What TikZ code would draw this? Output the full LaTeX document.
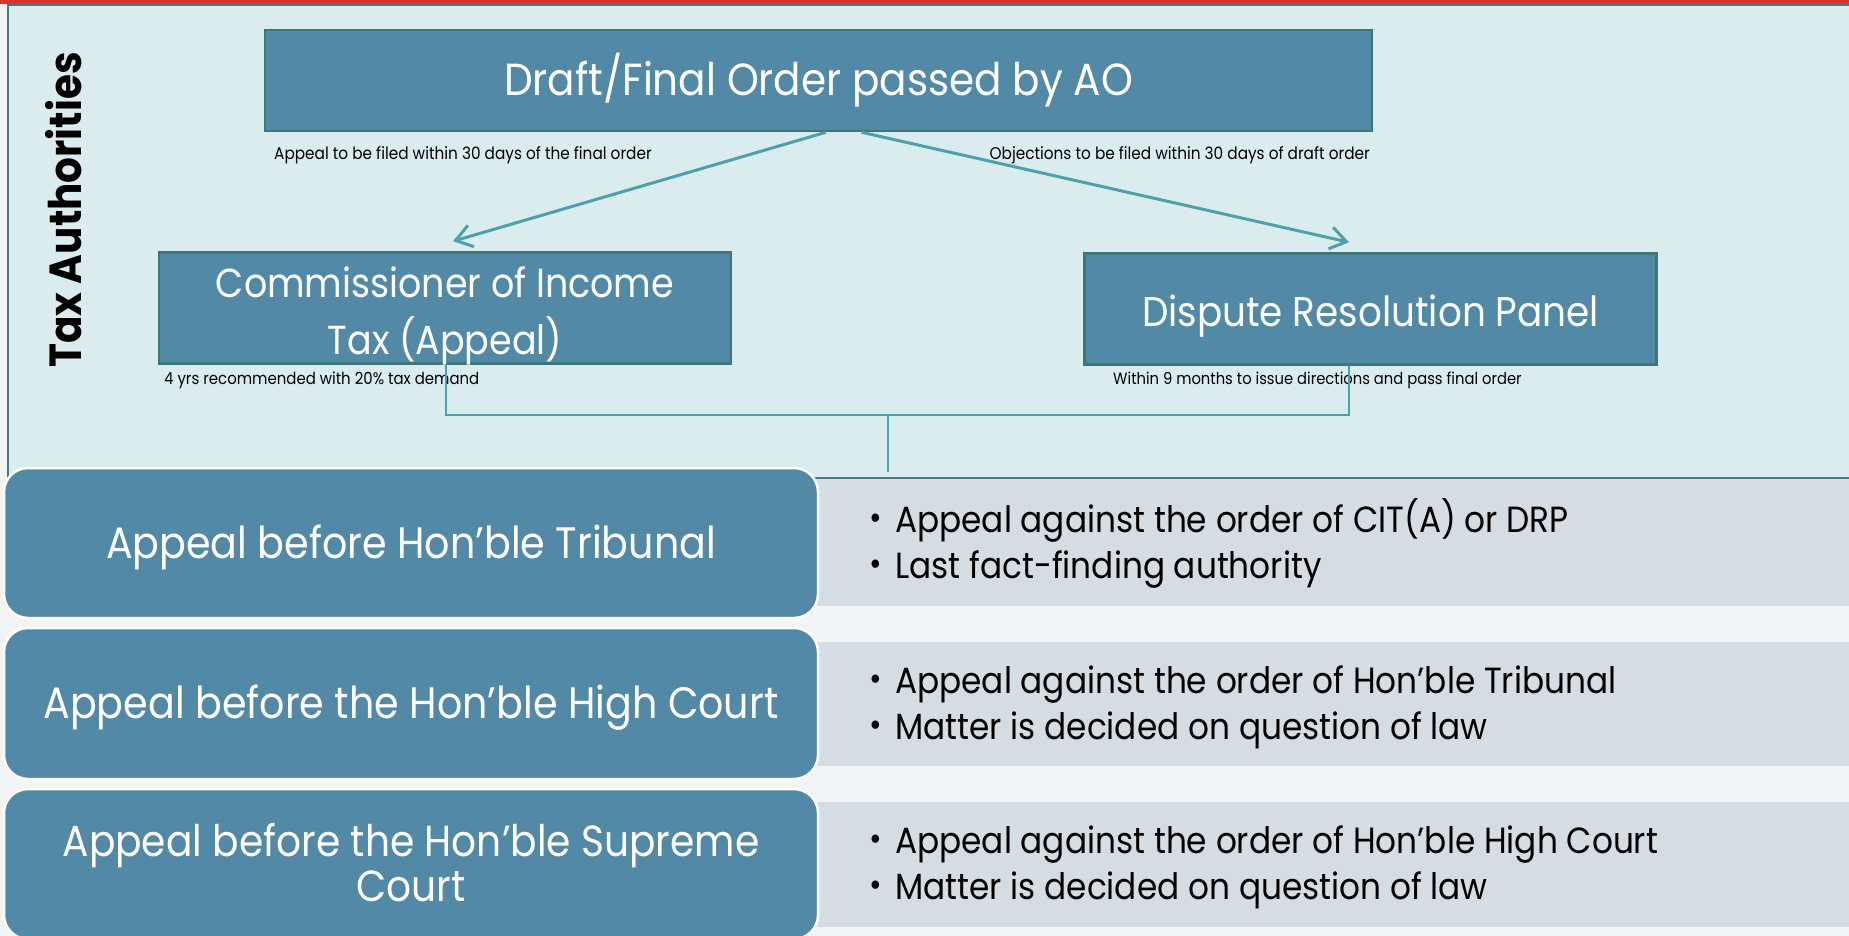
\documentclass[tikz,border=0pt]{standalone}
\usepackage{fontspec}
\setmainfont[FakeStretch=0.9]{Poppins}
\usetikzlibrary{arrows.meta,calc}
\definecolor{bgc}{HTML}{F3F4F5}
\definecolor{panelc}{HTML}{DBECEF}
\definecolor{panelb}{HTML}{3E7F82}
\definecolor{boxc}{HTML}{5289A6}
\definecolor{boxb}{HTML}{3D7778}
\definecolor{arrc}{HTML}{4CA2AA}
\definecolor{grayc}{HTML}{D5DCE2}
\definecolor{redc}{HTML}{E0302B}
\newcommand{\mybul}{\makebox[26pt][l]{\raisebox{3pt}{\fontsize{34}{34}\selectfont\textbullet}}}
\begin{document}
\begin{tikzpicture}[x=1pt,y=-1pt,
  topbox/.style={fill=boxc, draw=boxb, line width=2.5pt, inner sep=0pt, text=white},
  rowbox/.style={fill=boxc, draw=white, line width=2.5pt, rounded corners=24pt, inner sep=0pt,
    text=white, align=center, font=\fontsize{44}{53}\selectfont},
  grayrect/.style={fill=grayc, inner sep=0pt, anchor=north west},
  smalllbl/.style={font=\fontsize{17}{20}\selectfont, text=black, inner sep=0pt},
  bultext/.style={font=\fontsize{36.4}{46}\selectfont, text=black, align=left, inner sep=0pt, anchor=west},
  arr/.style={draw=arrc, line width=3pt, -{Straight Barb[length=16pt,width=22pt]}},
  bracket/.style={draw=arrc, line width=1.5pt}]
\useasboundingbox (0,0) rectangle (1849,936);
\fill[bgc] (0,0) rectangle (1849,936);
\fill[redc] (0,0) rectangle (1849,4);
\draw[fill=panelc, draw=panelb, line width=2pt] (8,5) rectangle (1860,478);

\node[topbox, minimum width=1107pt, minimum height=101pt, font=\fontsize{45}{57}\selectfont] (ao) at (818.5,80.5) {Draft/Final Order passed by AO};
\node[topbox, minimum width=572pt, minimum height=111pt] (cit) at (445,308) {};
\node[text=white, align=center, inner sep=0pt, font=\fontsize{40.5}{57}\selectfont] (citt) at (445,316) {Commissioner of Income\\Tax (Appeal)};
\node[topbox, minimum width=572pt, minimum height=111pt] (drp) at (1370.5,309) {};
\node[text=white, inner sep=0pt, font=\fontsize{41.5}{50}\selectfont] (drpt) at (1370.5,316) {Dispute Resolution Panel};

\node[rotate=90, font=\bfseries\fontsize{45}{45}\selectfont, inner sep=0pt] (ta) at (64,210) {Tax Authorities};

\node[smalllbl, anchor=west] (l1) at (274,155) {Appeal to be filed within 30 days of the final order};
\node[smalllbl, anchor=east] (l2) at (1370,155) {Objections to be filed within 30 days of draft order};
\node[smalllbl, anchor=west, font=\fontsize{16.6}{20}\selectfont] (l3) at (164,380) {4 yrs recommended with 20\% tax demand};
\node[smalllbl, anchor=west, font=\fontsize{16.4}{20}\selectfont] (l4) at (1113,380) {Within 9 months to issue directions and pass final order};

\draw[arr] ($(ao.south)+(7.5,0)$) -- ($(cit.north)+(8,-10)$);
\draw[arr] ($(ao.south)+(43,0)$) -- ($(drp.north)+(-21.5,-10)$);

\coordinate (bl) at (446,415);
\coordinate (br) at (1349,415);
\coordinate (bm) at (888,415);
\coordinate (bmend) at (888,472);
\draw[bracket] (cit.south -| bl) -- (bl) -- (br) -- (drp.south -| br);
\draw[bracket] (bm) -- (bmend);

\node[grayrect, minimum width=1050pt, minimum height=127pt] (g1) at (813,479) {};
\node[grayrect, minimum width=1050pt, minimum height=124pt] (g2) at (813,642) {};
\node[grayrect, minimum width=1050pt, minimum height=125pt] (g3) at (813,802) {};

\node[rowbox, minimum width=814pt, minimum height=150pt] (r1) at (411,543) {};
\node[text=white, inner sep=0pt, font=\fontsize{44}{53}\selectfont] (r1t) at (411,547) {Appeal before Hon’ble Tribunal};
\node[rowbox, minimum width=814pt, minimum height=151pt] (r2) at (411,703.5) {};
\node[text=white, inner sep=0pt, font=\fontsize{44}{53}\selectfont] (r2t) at (411,707.5) {Appeal before the Hon’ble High Court};
\node[rowbox, minimum width=814pt, minimum height=150pt] (r3) at (411,864) {};
\node[text=white, align=center, inner sep=0pt, font=\fontsize{43.5}{45}\selectfont] (r3t) at (411,862.5) {Appeal before the Hon’ble Supreme\\Court};

\node[bultext] (t1) at (869,543) {\mybul Appeal against the order of CIT(A) or DRP\\\mybul Last fact-finding authority};
\node[bultext] (t2) at (869,707) {\mybul Appeal against the order of Hon’ble Tribunal\\\mybul Matter is decided on question of law};
\node[bultext] (t3) at (869,867.5) {\mybul Appeal against the order of Hon’ble High Court\\\mybul Matter is decided on question of law};
\end{tikzpicture}
\end{document}
